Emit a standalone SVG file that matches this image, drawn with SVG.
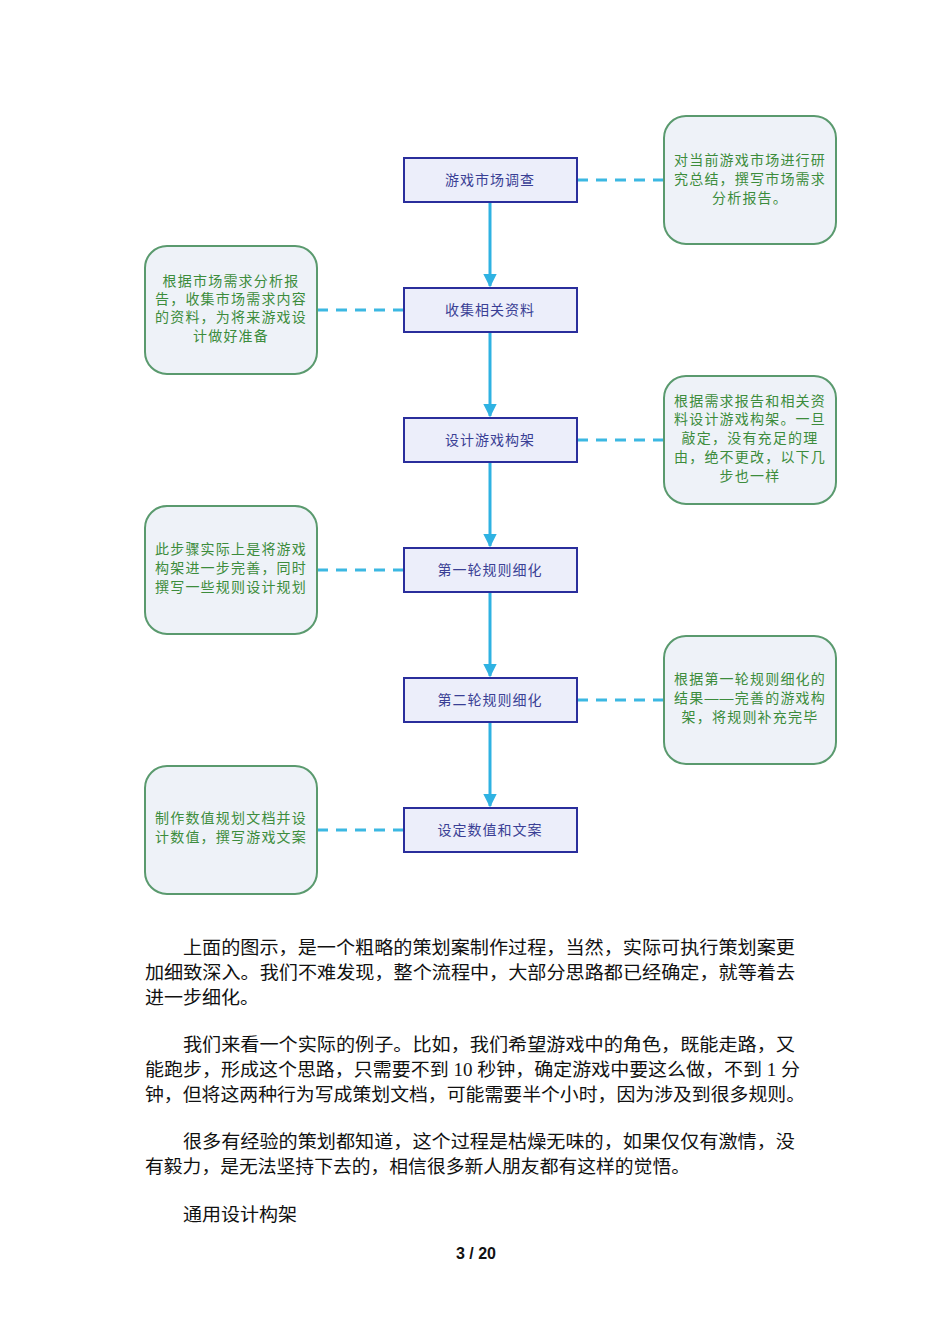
<svg xmlns="http://www.w3.org/2000/svg" width="950" height="1344" viewBox="0 0 950 1344">
<style>
.box{fill:#eceefa;stroke:#2a2e9c;stroke-width:2}
.note{fill:#eef2f8;stroke:#5a9a6e;stroke-width:2}
.bt{font-family:"Liberation Sans","Noto Sans CJK SC",sans-serif;font-size:14px;fill:#3a3f95;text-anchor:middle;letter-spacing:1px}
.nt{font-family:"Liberation Sans","Noto Sans CJK SC",sans-serif;font-size:14px;fill:#3c8c3c;text-anchor:middle;letter-spacing:1.2px}
.dash{stroke:#3cb8e2;stroke-width:3;stroke-dasharray:11 8;fill:none}
.flow{stroke:#2fb2e2;stroke-width:3;fill:none}
.body{font-family:"Liberation Serif","Noto Sans CJK SC",serif;font-size:18px;fill:#111}
</style>
<defs>
<marker id="ah" viewBox="0 0 10 10" refX="9" refY="5" markerWidth="4.5" markerHeight="4.5" orient="auto" markerUnits="strokeWidth">
<path d="M0,0 L10,5 L0,10 z" fill="#2fb2e2"/>
</marker>
</defs>
<rect width="950" height="1344" fill="#fff"/>
<g id="connectors">
<line class="flow" x1="490" y1="202" x2="490" y2="286" marker-end="url(#ah)"/>
<line class="flow" x1="490" y1="332" x2="490" y2="416" marker-end="url(#ah)"/>
<line class="flow" x1="490" y1="462" x2="490" y2="546" marker-end="url(#ah)"/>
<line class="flow" x1="490" y1="592" x2="490" y2="676" marker-end="url(#ah)"/>
<line class="flow" x1="490" y1="722" x2="490" y2="806" marker-end="url(#ah)"/>
<line class="dash" x1="577" y1="180" x2="664" y2="180"/>
<line class="dash" x1="317" y1="310" x2="404" y2="310"/>
<line class="dash" x1="577" y1="440" x2="664" y2="440"/>
<line class="dash" x1="317" y1="570" x2="404" y2="570"/>
<line class="dash" x1="577" y1="700" x2="664" y2="700"/>
<line class="dash" x1="317" y1="830" x2="404" y2="830"/>
</g>
<g id="step1"><rect class="box" x="404" y="158" width="173" height="44"/><text class="bt" x="490" y="185">游戏市场调查</text></g>
<g id="step2"><rect class="box" x="404" y="288" width="173" height="44"/><text class="bt" x="490" y="315">收集相关资料</text></g>
<g id="step3"><rect class="box" x="404" y="418" width="173" height="44"/><text class="bt" x="490" y="445">设计游戏构架</text></g>
<g id="step4"><rect class="box" x="404" y="548" width="173" height="44"/><text class="bt" x="490" y="575">第一轮规则细化</text></g>
<g id="step5"><rect class="box" x="404" y="678" width="173" height="44"/><text class="bt" x="490" y="705">第二轮规则细化</text></g>
<g id="step6"><rect class="box" x="404" y="808" width="173" height="44"/><text class="bt" x="490" y="835">设定数值和文案</text></g>
<g id="note1"><rect class="note" x="664" y="116" width="172" height="128" rx="22"/>
<text class="nt" x="750" y="165">对当前游戏市场进行研</text><text class="nt" x="750" y="184">究总结，撰写市场需求</text><text class="nt" x="750" y="203">分析报告。</text></g>
<g id="note2"><rect class="note" x="145" y="246" width="172" height="128" rx="22"/>
<text class="nt" x="231" y="286">根据市场需求分析报</text><text class="nt" x="231" y="304">告，收集市场需求内容</text><text class="nt" x="231" y="322">的资料，为将来游戏设</text><text class="nt" x="231" y="341">计做好准备</text></g>
<g id="note3"><rect class="note" x="664" y="376" width="172" height="128" rx="22"/>
<text class="nt" x="750" y="406">根据需求报告和相关资</text><text class="nt" x="750" y="424">料设计游戏构架。一旦</text><text class="nt" x="750" y="443">敲定，没有充足的理</text><text class="nt" x="750" y="462">由，绝不更改，以下几</text><text class="nt" x="750" y="481">步也一样</text></g>
<g id="note4"><rect class="note" x="145" y="506" width="172" height="128" rx="22"/>
<text class="nt" x="231" y="554">此步骤实际上是将游戏</text><text class="nt" x="231" y="573">构架进一步完善，同时</text><text class="nt" x="231" y="592">撰写一些规则设计规划</text></g>
<g id="note5"><rect class="note" x="664" y="636" width="172" height="128" rx="22"/>
<text class="nt" x="750" y="684">根据第一轮规则细化的</text><text class="nt" x="750" y="703">结果——完善的游戏构</text><text class="nt" x="750" y="722">架，将规则补充完毕</text></g>
<g id="note6"><rect class="note" x="145" y="766" width="172" height="128" rx="22"/>
<text class="nt" x="231" y="823">制作数值规划文档并设</text><text class="nt" x="231" y="842">计数值，撰写游戏文案</text></g>
<g id="bodytext">
<text class="body" x="183" y="954" textLength="612" lengthAdjust="spacingAndGlyphs">上面的图示，是一个粗略的策划案制作过程，当然，实际可执行策划案更</text>
<text class="body" x="145" y="979" textLength="650" lengthAdjust="spacingAndGlyphs">加细致深入。我们不难发现，整个流程中，大部分思路都已经确定，就等着去</text>
<text class="body" x="145" y="1004" textLength="114" lengthAdjust="spacingAndGlyphs">进一步细化。</text>
<text class="body" x="183" y="1051" textLength="612" lengthAdjust="spacingAndGlyphs">我们来看一个实际的例子。比如，我们希望游戏中的角色，既能走路，又</text>
<text class="body" x="145" y="1076" textLength="655" lengthAdjust="spacingAndGlyphs">能跑步，形成这个思路，只需要不到 10 秒钟，确定游戏中要这么做，不到 1 分</text>
<text class="body" x="145" y="1101" textLength="660" lengthAdjust="spacingAndGlyphs">钟，但将这两种行为写成策划文档，可能需要半个小时，因为涉及到很多规则。</text>
<text class="body" x="183" y="1148" textLength="612" lengthAdjust="spacingAndGlyphs">很多有经验的策划都知道，这个过程是枯燥无味的，如果仅仅有激情，没</text>
<text class="body" x="145" y="1173" textLength="545" lengthAdjust="spacingAndGlyphs">有毅力，是无法坚持下去的，相信很多新人朋友都有这样的觉悟。</text>
<text class="body" x="183" y="1221" textLength="114" lengthAdjust="spacingAndGlyphs">通用设计构架</text>
<text x="476" y="1259" text-anchor="middle" font-family="Liberation Sans, sans-serif" font-size="16" font-weight="bold" fill="#111">3 / 20</text>
</g>
</svg>
